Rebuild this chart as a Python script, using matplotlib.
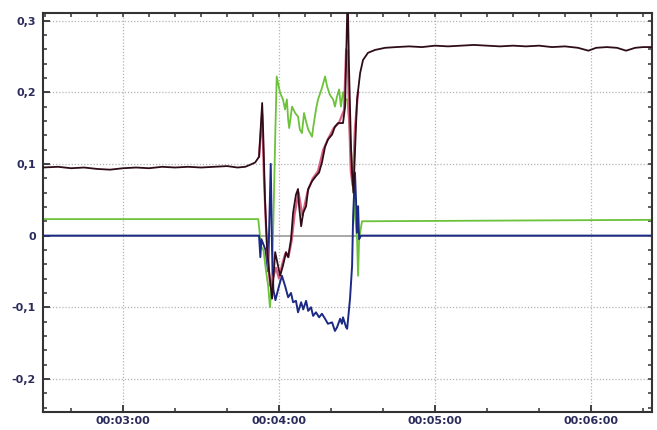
import matplotlib
matplotlib.use("Agg")
import matplotlib.pyplot as plt
import numpy as np
from matplotlib.ticker import MultipleLocator, FuncFormatter

# ---- data (time in seconds, values) ----
dark_t = [149, 155, 160, 165, 170, 175, 180, 185, 190, 195, 200, 205, 210, 215, 220, 224, 227,
          229, 230.8, 232.3, 233.5, 233.9, 234.6, 235.4, 236.2, 237.3, 238.5, 239.6, 240.4, 241.5,
          242.7, 243.5, 244.6, 245.4, 246.5, 247.3, 247.7, 248.5, 249.3, 250.4, 251.2, 252.7,
          254.2, 255.4, 256.5, 257.7, 258.8, 260.4, 261.5, 262.7, 264.6, 265.4, 266.2, 266.5,
          266.9, 267.7, 268.1, 268.6, 270.0, 271.2, 272.3, 274.2, 276.9, 280.8, 285, 290, 295,
          300, 305, 310, 315, 320, 325, 330, 335, 340, 345, 350, 355, 359, 362, 366, 370, 373.5,
          377, 380, 383.5]
dark_v = [0.095, 0.096, 0.094, 0.095, 0.093, 0.092, 0.094, 0.095, 0.094, 0.096, 0.095, 0.096,
          0.095, 0.096, 0.097, 0.095, 0.096, 0.099, 0.102, 0.110, 0.185, 0.143, 0.050, -0.019,
          -0.051, -0.088, -0.023, -0.042, -0.056, -0.042, -0.023, -0.030, -0.005, 0.032, 0.057,
          0.065, 0.041, 0.013, 0.032, 0.041, 0.065, 0.076, 0.083, 0.088, 0.102, 0.124, 0.134,
          0.141, 0.152, 0.157, 0.157, 0.180, 0.310, 0.318, 0.236, 0.120, 0.088, 0.060, 0.190,
          0.227, 0.245, 0.255, 0.259, 0.262, 0.263, 0.264, 0.263, 0.265, 0.264, 0.265, 0.266,
          0.265, 0.264, 0.265, 0.264, 0.265, 0.263, 0.264, 0.262, 0.258, 0.262, 0.263, 0.262,
          0.258, 0.262, 0.263, 0.263]

red_t = [232.3, 233.5, 234.2, 235.0, 235.8, 236.6, 237.6, 238.8, 240.0, 241.2, 242.4, 243.6,
         244.8, 246.0, 247.5, 249.0, 251.0, 253.0, 255.0, 257.0, 259.0, 261.0, 263.0, 265.0,
         265.8, 266.4, 267.0, 267.6, 268.3, 269.2, 270.4]
red_v = [0.110, 0.170, 0.080, 0.010, -0.040, -0.070, -0.060, -0.045, -0.060, -0.040, -0.025,
         -0.030, -0.008, 0.030, 0.060, 0.028, 0.062, 0.080, 0.090, 0.120, 0.136, 0.150, 0.157,
         0.175, 0.260, 0.250, 0.160, 0.090, 0.070, 0.150, 0.200]

green_t = [149, 232.0, 232.5, 233.0, 234.0, 235.0, 235.8, 236.5, 237.3, 238.0, 238.6, 239.1,
           240.4, 241.5, 242.3, 243.0, 243.5, 243.9, 245.0, 246.2, 247.3, 248.0, 248.8, 249.6,
           250.4, 251.2, 252.7, 253.1, 254.2, 255.0, 256.5, 257.7, 258.5, 259.6, 260.8, 261.5,
           262.3, 263.1, 263.8, 264.6, 265.4, 266.2, 267.3, 268.5, 269.2, 270.0, 270.4, 270.8,
           271.9, 383.5]
green_v = [0.023, 0.023, 0.005, -0.015, -0.020, -0.050, -0.070, -0.100, -0.060, 0.050, 0.150,
           0.222, 0.199, 0.190, 0.176, 0.190, 0.162, 0.150, 0.180, 0.171, 0.166, 0.148, 0.143,
           0.171, 0.159, 0.148, 0.138, 0.150, 0.176, 0.190, 0.206, 0.222, 0.208, 0.196, 0.190,
           0.180, 0.194, 0.204, 0.180, 0.200, 0.190, 0.190, 0.143, 0.074, 0.027, -0.005, -0.056,
           -0.005, 0.020, 0.022]

blue_t = [149, 232.3, 232.8, 233.2, 234.8, 235.8, 236.8, 237.3, 237.8, 238.6, 239.3, 240.0,
          241.1, 242.3, 243.5, 244.6, 245.4, 246.5, 247.3, 248.5, 249.3, 250.4, 251.2, 252.3,
          253.1, 254.2, 255.4, 256.5, 257.7, 258.8, 260.4, 261.5, 262.3, 263.5, 264.2, 264.6,
          265.8, 266.2, 267.3, 268.1, 268.5, 269.2, 269.6, 270.0, 270.4, 270.8, 271.5, 383.5]
blue_v = [0.0, 0.0, -0.030, -0.005, -0.020, -0.050, 0.100, -0.020, -0.075, -0.090, -0.080,
          -0.070, -0.056, -0.070, -0.086, -0.080, -0.093, -0.091, -0.107, -0.093, -0.103, -0.091,
          -0.105, -0.100, -0.112, -0.107, -0.114, -0.109, -0.116, -0.123, -0.121, -0.133, -0.128,
          -0.116, -0.123, -0.114, -0.128, -0.130, -0.088, -0.042, 0.027, 0.088, 0.050, 0.004,
          0.041, -0.005, 0.0, 0.0]

x_ticks = [180, 240, 300, 360]
x_labels = ["00:03:00", "00:04:00", "00:05:00", "00:06:00"]
y_ticks = [-0.2, -0.1, 0, 0.1, 0.2, 0.3]
y_labels = ["-0,2", "-0,1", "0", "0,1", "0,2", "0,3"]

# ---- figure ----
fig = plt.figure(figsize=(6.57, 4.30), dpi=100)
ax = fig.add_axes([0.0655, 0.042, 0.927, 0.9285])

lab_color = "#2b2b5c"
grid_kw = dict(color="#b4b4b4", lw=0.9, ls=(0, (1, 1.5)), zorder=0)
for yv in y_ticks:
    if yv != 0:
        ax.axhline(yv, **grid_kw)
for xv in x_ticks:
    ax.axvline(xv, **grid_kw)
ax.axhline(0, color="#9a9a9a", lw=1.2, zorder=0.5)

ax.plot(green_t, green_v, color="#6cc23a", lw=1.3, zorder=2)
ax.plot(blue_t, blue_v, color="#1c2a86", lw=1.4, zorder=3)
ax.plot(red_t, red_v, color="#d86080", lw=1.6, zorder=3.5)
ax.plot(dark_t, dark_v, color="#2e0d18", lw=1.3, zorder=4)

ax.set_xlim(149.2, 383.5)
ax.set_ylim(-0.246, 0.311)

ax.set_xticks(x_ticks)
ax.set_xticklabels(x_labels)
ax.xaxis.set_minor_locator(MultipleLocator(20))
ax.set_yticks(y_ticks)
ax.set_yticklabels(y_labels)
ax.yaxis.set_minor_locator(MultipleLocator(0.02))

ax.tick_params(axis="both", which="both", direction="in", color="#333333")
ax.tick_params(axis="both", which="major", length=5, width=1.3)
ax.tick_params(axis="both", which="minor", length=3, width=1.1)
ax.tick_params(axis="x", which="major", pad=3)
ax.tick_params(axis="y", which="major", pad=5)
for lab in ax.get_xticklabels() + ax.get_yticklabels():
    lab.set_fontsize(8)
    lab.set_fontweight("bold")
    lab.set_color(lab_color)

sec_x = ax.secondary_xaxis("top")
sec_x.xaxis.set_major_locator(MultipleLocator(10))
sec_x.tick_params(direction="in", length=3, width=1.1, color="#333333", labeltop=False)
sec_y = ax.secondary_yaxis("right")
sec_y.yaxis.set_major_locator(MultipleLocator(0.02))
sec_y.tick_params(direction="in", length=3, width=1.1, color="#333333", labelright=False)
for s in list(sec_x.spines.values()) + list(sec_y.spines.values()):
    s.set_visible(False)

for s in ax.spines.values():
    s.set_color("#333333")
    s.set_linewidth(1.5)

fig.savefig("out.png", dpi=100)
